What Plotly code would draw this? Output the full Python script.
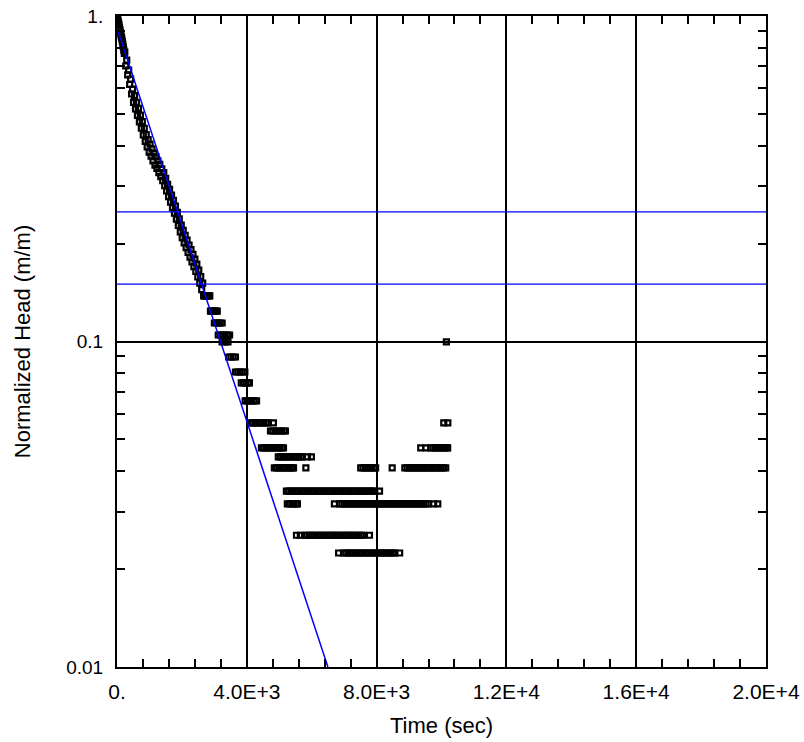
import plotly.graph_objects as go

# ---------------- data ----------------
# early, continuously falling part of the record (time in s, normalized head in m/m);
# the band in the picture is several markers thick, so values scatter about its centre
band_time = [0, 10, 20, 30, 40, 50, 60, 75, 90, 105, 120, 135, 150, 165, 180, 195, 210,
             225, 240, 270, 300, 330, 360, 390, 420, 450, 480, 510, 540, 570, 600, 630,
             660, 690, 720, 750, 780, 810, 840, 870, 900, 930, 960, 990, 1020, 1050,
             1080, 1110, 1140, 1170, 1200, 1230, 1260, 1290, 1320, 1350, 1380, 1410,
             1440, 1470, 1500, 1530, 1560, 1590, 1620, 1650, 1680, 1710, 1740, 1770,
             1800, 1830, 1860, 1890, 1920, 1950, 1980, 2010, 2040, 2070, 2100, 2130,
             2160, 2190, 2220, 2250, 2280, 2310, 2340, 2370, 2400, 2430, 2460, 2490,
             2520, 2550, 2580, 2610, 2640]
band_head = [1.000, 0.990, 0.979, 0.968, 0.958, 0.948, 0.938, 0.923, 0.909, 0.893, 0.877,
             0.863, 0.850, 0.835, 0.820, 0.803, 0.786, 0.767, 0.774, 0.702, 0.732, 0.659,
             0.682, 0.616, 0.640, 0.576, 0.596, 0.543, 0.569, 0.518, 0.543, 0.495, 0.520,
             0.473, 0.496, 0.452, 0.474, 0.431, 0.452, 0.412, 0.432, 0.396, 0.417, 0.382,
             0.404, 0.371, 0.391, 0.359, 0.379, 0.348, 0.369, 0.340, 0.359, 0.330, 0.350,
             0.321, 0.339, 0.312, 0.330, 0.301, 0.317, 0.290, 0.304, 0.2786, 0.2934,
             0.2680, 0.2815, 0.2577, 0.2712, 0.2479, 0.2606, 0.2377, 0.2494, 0.2272,
             0.2381, 0.2171, 0.2277, 0.2084, 0.2194, 0.2010, 0.2118, 0.1943, 0.2049,
             0.1878, 0.1979, 0.1815, 0.1915, 0.1756, 0.1853, 0.1698, 0.1791, 0.1641,
             0.1728, 0.1578, 0.1656, 0.1510, 0.1584, 0.1443, 0.1511]

# later part: the logger resolution gives discrete head levels; times logged at each level
level_heads = [0.138, 0.124, 0.114, 0.1047, 0.0997, 0.0896, 0.0806, 0.0746, 0.0657,
               0.0562, 0.0531, 0.0471, 0.0442, 0.0409, 0.0347, 0.0317, 0.0254, 0.0224]
level_times = [
    [2670, 2700, 2740, 2780, 2820, 2860],
    [2880, 2920, 2960, 3000, 3040, 3090],
    [3000, 3060, 3120, 3180, 3240],
    [3120, 3190, 3260, 3330, 3400, 3470],
    [3240, 3330, 3420, 10150],
    [3440, 3510, 3580, 3650],
    [3650, 3720, 3790, 3860, 3940],
    [3830, 3900, 3970, 4040, 4080],
    [3950, 4020, 4090, 4160, 4230, 4300],
    [4110, 4180, 4250, 4320, 4390, 4460, 4530, 4600, 4650, 4820, 10070, 10195],
    [4730, 4800, 4870, 4940, 5010, 5080, 5150, 5190],
    [4450, 4520, 4590, 4660, 4730, 4800, 4870, 4940, 5010, 5080, 5130,
     9360, 9515, 9670, 9740, 9810, 9880, 9950, 10020, 10090, 10160, 10190],
    [4970, 5040, 5110, 5180, 5250, 5320, 5390, 5460, 5530, 5600, 5670, 5710, 5870, 5990],
    [4850, 4920, 4990, 5060, 5130, 5200, 5270, 5340, 5410, 5440, 5820,
     7510, 7580, 7650, 7720, 7790, 7860, 7930, 7970, 8480,
     8870, 8940, 9010, 9080, 9150, 9220, 9290, 9360, 9430, 9500, 9570, 9640, 9710,
     9780, 9850, 9920, 9990, 10060, 10130],
    [5220, 5290, 5360, 5430, 5500, 5570, 5640, 5710, 5780, 5850, 5920, 5990, 6060,
     6130, 6200, 6270, 6340, 6410, 6480, 6550, 6620, 6690, 6760, 6830, 6900, 6970,
     7040, 7110, 7180, 7250, 7320, 7390, 7460, 7530, 7600, 7670, 7740, 7810, 7880,
     7940, 8090],
    [5250, 5320, 5390, 5460, 5530, 5560, 6700,
     6860, 6930, 7000, 7070, 7140, 7210, 7280, 7350, 7420, 7490, 7560, 7630, 7700,
     7770, 7840, 7910, 7980, 8050, 8120, 8190, 8260, 8330, 8400, 8470, 8540, 8610,
     8680, 8750, 8820, 8890, 8960, 9030, 9100, 9170, 9240, 9310, 9380, 9450, 9520,
     9590, 9760, 9885],
    [5530, 5650, 5780, 5850, 5920, 5990, 6060, 6130, 6200, 6270, 6340, 6410, 6480,
     6550, 6620, 6690, 6760, 6830, 6900, 6970, 7040, 7110, 7180, 7250, 7320, 7390,
     7460, 7530, 7600, 7780],
    [6830, 6980, 7050, 7120, 7190, 7260, 7330, 7400, 7470, 7540, 7610, 7680, 7750,
     7820, 7890, 7960, 8030, 8100, 8170, 8240, 8310, 8380, 8450, 8520, 8560, 8710],
]

# fitted straight line (semi-log) and the recommended normalized-head range
fit_time = [0, 6500]
fit_head = [0.919, 0.01]
range_heads = [0.25, 0.15]

x_tickvals = [0, 4000, 8000, 12000, 16000, 20000]
x_ticktext = ["0.", "4.0E+3", "8.0E+3", "1.2E+4", "1.6E+4", "2.0E+4"]
y_tickvals = [0.01, 0.1, 1]
y_ticktext = ["0.01", "0.1", "1."]
y_minorvals = [0.02, 0.03, 0.04, 0.05, 0.06, 0.07, 0.08, 0.09,
               0.2, 0.3, 0.4, 0.5, 0.6, 0.7, 0.8, 0.9]

# ---------------- figure ----------------
obs_t = list(band_time)
obs_h = list(band_head)
for h, ts in zip(level_heads, level_times):
    obs_t += ts
    obs_h += [h] * len(ts)

FONT = "Liberation Sans, Arial, sans-serif"

fig = go.Figure()
fig.add_trace(go.Scatter(
    x=obs_t, y=obs_h, mode="markers",
    marker=dict(symbol="square-open", size=5, color="black",
                line=dict(color="black", width=2.2)),
    cliponaxis=True,
))
fig.add_trace(go.Scatter(x=fit_time, y=fit_head, mode="lines",
                         line=dict(color="#0000ff", width=1.5)))
for h in range_heads:
    fig.add_trace(go.Scatter(x=[x_tickvals[0], x_tickvals[-1]], y=[h, h], mode="lines",
                             line=dict(color="#0000ff", width=1.3)))

axis_common = dict(
    showline=True, linewidth=2, linecolor="black", mirror="allticks",
    ticks="inside", ticklen=8, tickwidth=1.5, tickcolor="black",
    showgrid=True, gridcolor="black", gridwidth=1.5, zeroline=False,
    ticklabeloverflow="allow",
)

fig.update_xaxes(
    range=[0, 20000], tickmode="array", tickvals=x_tickvals, ticktext=x_ticktext,
    minor=dict(tick0=0, dtick=800, ticks="inside", ticklen=8, tickwidth=1.5,
               tickcolor="black", showgrid=False),
    tickfont=dict(family=FONT, size=21, color="black"),
    title=dict(text="Time (sec)", font=dict(family=FONT, size=22, color="black"), standoff=15),
    ticklabelstandoff=5,
    **axis_common,
)
fig.update_yaxes(
    type="log", range=[-2, 0], tickmode="array", tickvals=y_tickvals, ticktext=y_ticktext,
    minor=dict(tickmode="array", tickvals=y_minorvals, ticks="inside", ticklen=8,
               tickwidth=1.5, tickcolor="black", showgrid=False),
    tickfont=dict(family=FONT, size=19, color="black"),
    title=dict(text="Normalized Head (m/m)", font=dict(family=FONT, size=22, color="black"),
               standoff=30),
    ticklabelstandoff=8,
    **axis_common,
)

fig.update_layout(
    width=804, height=742,
    margin=dict(l=117, r=38, t=16, b=75, autoexpand=False),
    plot_bgcolor="white", paper_bgcolor="white",
    showlegend=False,
    font=dict(family=FONT, color="black"),
)

# remove the browser's default page margin so the figure fills the 804x742 window
fig.write_html(
    "out.html",
    config={"displayModeBar": False},
    post_script="document.body.style.margin='0';document.body.style.overflow='hidden';",
)
